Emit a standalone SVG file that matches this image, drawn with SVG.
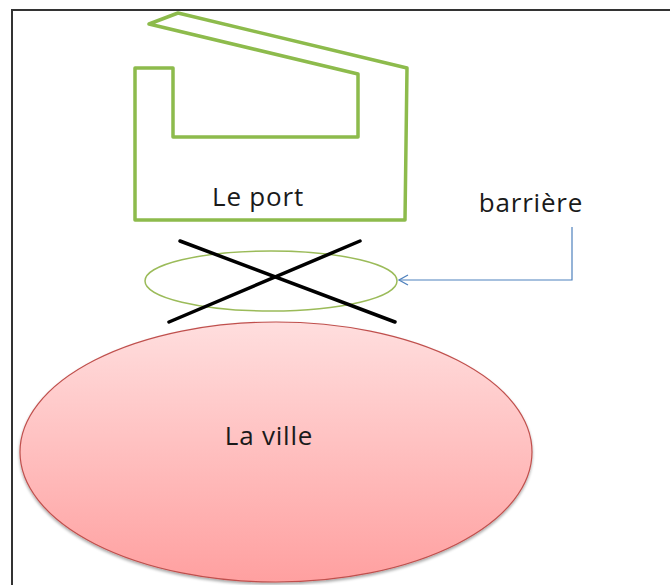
<svg xmlns="http://www.w3.org/2000/svg" width="670" height="585" viewBox="0 0 670 585">
  <style>
    .lbl { font-family: "Open Sans", "Liberation Sans", sans-serif; font-size: 26px; letter-spacing: 0.8px; fill: #1a1a1a; }
    .port { fill: none; stroke: #8dbb4c; stroke-width: 3.5; stroke-linejoin: round; }
    .barrier { fill: none; stroke: #9bbb59; stroke-width: 1.5; }
    .cross { stroke: #000; stroke-width: 3.5; stroke-linecap: round; }
    .link { fill: none; stroke: #4f81bd; stroke-width: 1.2; }
  </style>
  <defs>
    <linearGradient id="cityFill" x1="0" y1="0" x2="0" y2="1">
      <stop offset="0" stop-color="#ffdede"/>
      <stop offset="1" stop-color="#ffa0a0"/>
    </linearGradient>
    <filter id="shadow" x="-10%" y="-10%" width="120%" height="125%">
      <feGaussianBlur in="SourceAlpha" stdDeviation="1.5"/>
      <feOffset dx="0" dy="2" result="b"/>
      <feComponentTransfer><feFuncA type="linear" slope="0.35"/></feComponentTransfer>
      <feMerge><feMergeNode/><feMergeNode in="SourceGraphic"/></feMerge>
    </filter>
    <marker id="openArrow" markerWidth="14" markerHeight="14" refX="10" refY="6" orient="auto" markerUnits="userSpaceOnUse">
      <path d="M1,1 L10,6 L1,11" fill="none" stroke="#4f81bd" stroke-width="1.3"/>
    </marker>
  </defs>

  <rect width="670" height="585" fill="#fff"/>

  <!-- frame -->
  <path d="M12,585 V10 H670" fill="none" stroke="#333" stroke-width="2"/>

  <g id="city">
    <ellipse cx="276" cy="452" rx="256" ry="130" fill="url(#cityFill)" stroke="#c0504d" stroke-width="1.2" filter="url(#shadow)"/>
    <text class="lbl" x="269" y="445" text-anchor="middle">La ville</text>
  </g>

  <g id="port">
    <path class="port" d="M135,68 H173 V137 H358 V74 L149,24 L178,13 L407,68 L405,220 H135 Z"/>
    <text class="lbl" x="258" y="206" text-anchor="middle">Le port</text>
  </g>

  <g id="barrier">
    <ellipse class="barrier" cx="271" cy="281" rx="126" ry="30"/>
    <line class="cross" x1="180" y1="241" x2="395" y2="322"/>
    <line class="cross" x1="360" y1="241" x2="169" y2="322"/>
  </g>

  <g id="barrier-label">
    <text class="lbl" x="531" y="212" text-anchor="middle">barrière</text>
  </g>

  <g id="connectors">
    <path class="link" d="M572,227 V280 H399" marker-end="url(#openArrow)"/>
  </g>
</svg>
